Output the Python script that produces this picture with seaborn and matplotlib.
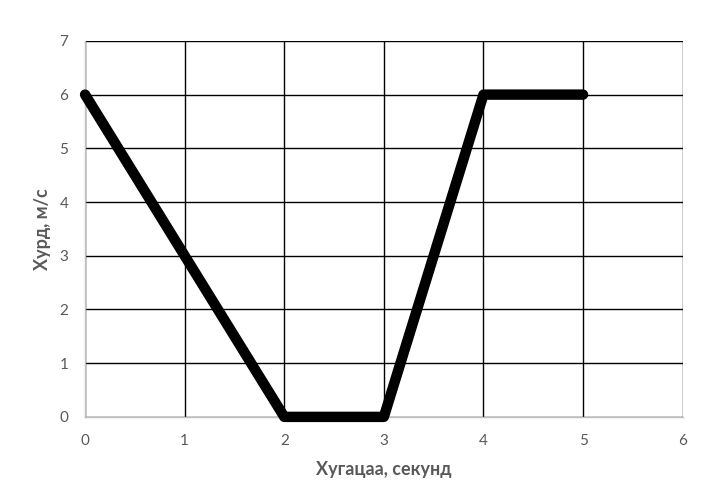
import matplotlib
matplotlib.use("Agg")
import matplotlib.pyplot as plt
import seaborn as sns
import pandas as pd

# speed over time
time_s = [0, 1, 2, 3, 4, 5]
speed = [6, 3, 0, 0, 6, 6]

x_ticks = [0, 1, 2, 3, 4, 5, 6]
y_ticks = [0, 1, 2, 3, 4, 5, 6, 7]

df = pd.DataFrame({"t": time_s, "v": speed})

sns.set_style("white")
plt.rcParams['font.family'] = ['Lato', 'DejaVu Sans']

fig = plt.figure(figsize=(7.27, 4.87), dpi=100)
ax = fig.add_axes([0.117, 0.144, 0.822, 0.772])

sns.lineplot(data=df, x="t", y="v", ax=ax, color="black", linewidth=7.5,
             solid_capstyle="round", solid_joinstyle="round", zorder=3,
             clip_on=False)

ax.set_xlim(0, 6)
ax.set_ylim(0, 7)
ax.set_xticks(x_ticks)
ax.set_yticks(y_ticks)
ax.grid(True, color="black", linewidth=1.0)
ax.set_axisbelow(True)

gray = "#595959"
ax.tick_params(axis="both", length=0, colors=gray, labelsize=11, pad=12)
for side in ["top", "right"]:
    ax.spines[side].set_visible(False)
for side in ["left", "bottom"]:
    ax.spines[side].set_color("#bfbfbf")
    ax.spines[side].set_linewidth(1.0)
    ax.spines[side].set_zorder(2.5)

ax.set_xlabel("Хугацаа, секунд", color=gray, fontsize=13, fontweight="bold", labelpad=10)
ax.set_ylabel("Хурд, м/с", color=gray, fontsize=13, fontweight="bold", labelpad=6)

fig.savefig("out.png", dpi=100)
